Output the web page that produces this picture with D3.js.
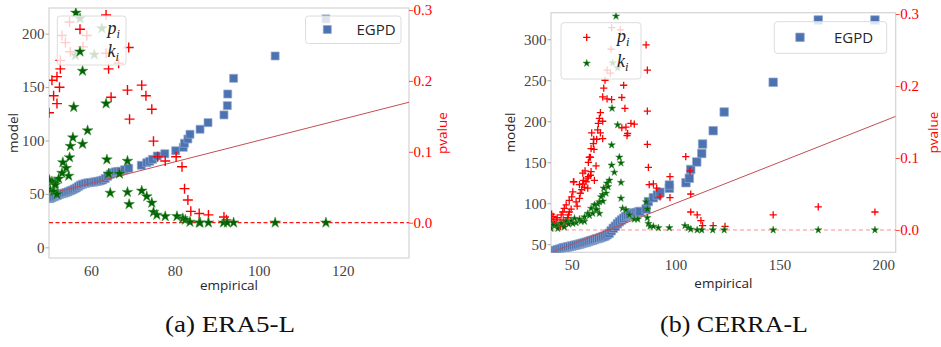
<!DOCTYPE html>
<html><head><meta charset="utf-8">
<script src="https://cdn.jsdelivr.net/npm/d3@7"></script>
<style>body{margin:0;background:#fff}</style>
</head><body><svg id="c" width="941" height="347"></svg>
<script>
// ---------------- DATA ----------------
// (a) ERA5-L
const era5XTicks = [60, 80, 100, 120];
const era5YTicks = [0, 50, 100, 150, 200];
const era5PTicks = [0, 0.1, 0.2, 0.3];
const era5XDomain = [50, 135.8];
const era5YDomain = [-10, 224];
const era5PDomain = [-0.0498, 0.3028];
const era5Ref = [52, 136];
const era5EGPD = [[50.2,45.5],[50.6,46.3],[51.0,47.0],[51.5,47.8],[52.0,48.6],[52.5,49.4],[53.0,50.1],[53.5,50.6],[54.0,51.2],[54.5,51.9],[55.0,52.8],[55.5,53.6],[56.0,54.6],[56.5,55.6],[57.0,57.0],[57.5,58.2],[58.0,59.0],[58.6,59.8],[59.2,60.3],[59.8,60.6],[60.5,61.0],[61.0,61.3],[61.6,61.8],[62.2,62.2],[62.8,63.0],[63.4,64.4],[64.0,66.5],[64.6,68.4],[65.2,69.8],[65.8,70.6],[66.4,71.0],[67.0,71.2],[68.0,72.6],[69.0,74.0],[72.0,76.8],[73.3,79.2],[74.0,80.5],[74.7,82.4],[75.8,85.5],[77.6,87.6],[80.2,90.4],[82.0,93.6],[82.3,97.4],[83.1,101.4],[83.6,105.8],[86.0,110.5],[87.9,116.7],[91.7,123.9],[92.5,132.6],[92.6,143.5],[94.0,158.2],[103.9,179.1],[116.0,213.8]];
const era5P = [[50.0,0.155],[50.7,0.201],[51.1,0.179],[51.9,0.168],[51.9,0.206],[52.5,0.191],[52.7,0.217],[52.7,0.229],[53.1,0.264],[53.9,0.254],[54.9,0.283],[55.1,0.241],[57.9,0.310],[58.1,0.248],[59.0,0.264],[63.6,0.293],[63.6,0.239],[64.2,0.217],[64.8,0.177],[66.6,0.225],[69.0,0.247],[68.7,0.187],[69.2,0.146],[72.1,0.194],[73.1,0.179],[74.5,0.160],[74.9,0.115],[75.9,0.093],[77.7,0.087],[80.3,0.093],[81.7,0.079],[82.3,0.048],[83.1,0.032],[83.8,0.016],[85.8,0.013],[88.0,0.011],[91.7,0.008],[92.3,0.004]];
const era5K = [[56.4,0.296],[58.0,0.214],[55.9,0.163],[63.6,0.168],[59.2,0.130],[58.0,0.111],[55.7,0.120],[55.1,0.108],[54.9,0.092],[53.3,0.085],[54.1,0.077],[54.7,0.066],[53.1,0.070],[52.3,0.062],[51.5,0.056],[50.7,0.058],[50.3,0.046],[51.1,0.044],[51.9,0.040],[50.1,0.060],[51.5,0.053],[63.8,0.089],[64.6,0.042],[64.2,0.069],[66.8,0.069],[68.7,0.087],[68.7,0.043],[69.1,0.026],[72.1,0.045],[73.3,0.037],[74.5,0.028],[74.9,0.015],[75.7,0.011],[77.7,0.009],[80.5,0.009],[81.9,0.006],[82.5,0.004],[83.6,0.001],[85.8,0],[86.0,0],[88.0,0],[91.6,0],[92.5,0],[94.0,0],[103.9,0],[116.0,0],[57.4,0.288],[62.6,0.274],[56.3,0.236],[60.8,0.237]];

// (b) CERRA-L
const cerraXTicks = [50, 100, 150, 200];
const cerraYTicks = [50, 100, 150, 200, 250, 300];
const cerraPTicks = [0, 0.1, 0.2, 0.3];
const cerraXDomain = [40, 206];
const cerraYDomain = [40.2, 332.4];
const cerraPDomain = [-0.031, 0.3018];
const cerraRef = [40, 206];
const cerraEGPD = [[40.3,40.8],[41.2,41.6],[42.1,42.4],[43.0,43.2],[44.0,44.0],[45.0,44.8],[46.0,45.6],[47.0,46.2],[48.0,46.8],[49.0,47.3],[50.0,47.9],[51.0,48.5],[52.0,49.1],[53.0,49.7],[54.0,50.4],[55.0,51.1],[56.0,51.8],[57.0,52.6],[58.0,53.4],[59.0,54.2],[60.0,55.0],[61.0,55.9],[62.0,56.6],[63.0,57.3],[64.0,58.2],[65.0,59.1],[66.0,60.2],[67.0,61.6],[68.0,63.5],[69.0,66.5],[70.0,69.5],[71.0,72.0],[72.0,75.0],[73.0,77.5],[74.0,79.6],[75.0,81.8],[76.0,83.8],[77.0,85.2],[78.0,86.3],[79.0,87.2],[80.0,88.0],[81.0,88.6],[82.0,89.2],[82.8,90.0],[85.8,93.0],[86.9,102.0],[89.3,106.8],[91.2,110.1],[92.5,113.4],[97.0,118.3],[97.0,122.3],[105.0,125.1],[106.6,130.5],[107.3,141.2],[110.2,150.4],[112.6,160.7],[113.0,172.3],[118.1,188.5],[123.4,211.3],[147.0,247.6],[168.7,323.5],[196.0,323.5]];
const cerraP = [[40.3,0.022],[40.3,0.015],[41.0,0.011],[41.7,0.008],[42.7,0.006],[43.6,0.005],[44.6,0.005],[45.6,0.006],[46.6,0.008],[47.3,0.013],[48.0,0.017],[41.0,0.019],[42.5,0.014],[43.0,0.017],[44.4,0.011],[45.9,0.014],[44.9,0.021],[45.7,0.025],[46.4,0.030],[47.3,0.035],[48.4,0.021],[48.8,0.025],[48.8,0.041],[49.7,0.029],[50.0,0.046],[50.5,0.053],[51.0,0.067],[52.1,0.039],[52.6,0.033],[53.7,0.044],[54.1,0.051],[54.8,0.056],[55.3,0.064],[56.1,0.059],[56.9,0.067],[57.7,0.058],[57.7,0.072],[59.0,0.076],[59.3,0.081],[60.9,0.069],[61.7,0.089],[59.0,0.101],[59.3,0.113],[59.6,0.135],[60.6,0.126],[62.5,0.139],[63.3,0.155],[63.8,0.135],[63.8,0.163],[64.9,0.127],[64.9,0.151],[64.9,0.185],[65.4,0.197],[66.0,0.208],[67.0,0.182],[67.0,0.222],[68.6,0.218],[68.9,0.251],[69.2,0.181],[69.2,0.281],[73.4,0.278],[74.1,0.184],[74.1,0.142],[75.0,0.201],[75.6,0.169],[76.1,0.143],[76.6,0.131],[76.9,0.134],[78.5,0.148],[80.1,0.147],[62.8,0.148],[62.0,0.126],[60.4,0.120],[60.7,0.112],[58.5,0.101],[58.0,0.094],[56.4,0.082],[55.3,0.079],[55.6,0.069],[58.0,0.074],[50.8,0.067],[53.7,0.063],[85.8,0.257],[86.4,0.222],[86.4,0.165],[86.4,0.119],[86.9,0.087],[87.3,0.063],[89.3,0.064],[90.9,0.058],[92.5,0.046],[97.3,0.074],[97.3,0.045],[104.9,0.102],[106.9,0.082],[107.3,0.050],[107.3,0.025],[110.4,0.021],[112.2,0.013],[113.0,0.006],[118.1,0.006],[123.8,0.005],[147.0,0.021],[168.7,0.032],[196.0,0.025]];
const cerraK = [[71.3,0.297],[69.4,0.169],[72.1,0.146],[69.7,0.232],[72.1,0.225],[69.2,0.118],[72.9,0.101],[73.7,0.093],[69.2,0.090],[68.1,0.069],[67.0,0.065],[65.4,0.058],[66.5,0.051],[64.9,0.049],[64.1,0.046],[63.3,0.039],[62.5,0.036],[73.7,0.066],[73.7,0.044],[74.5,0.030],[76.1,0.028],[77.7,0.021],[80.1,0.015],[81.8,0.015],[60.9,0.035],[59.3,0.030],[61.7,0.029],[57.7,0.023],[60.1,0.023],[63.3,0.023],[56.1,0.018],[56.1,0.012],[53.7,0.015],[52.1,0.010],[51.3,0.016],[49.7,0.013],[47.3,0.012],[44.9,0.009],[42.4,0.007],[40.9,0.007],[40.0,0.002],[43.3,0.002],[46.4,0.004],[48.5,0.008],[50.5,0.009],[54.5,0.012],[58.5,0.020],[62.0,0.028],[65.0,0.040],[67.5,0.060],[70.5,0.080],[85.8,0.039],[86.4,0.029],[86.4,0.017],[86.9,0.009],[87.7,0.005],[89.3,0.005],[91.7,0.003],[97.0,0.003],[104.5,0.006],[106.1,0.003],[107.3,0.001],[110.4,0],[112.6,0],[117.9,0],[123.4,0],[147.0,0],[168.7,0],[196.0,0]];

const labels = {x: "empirical", y: "model", p: "pvalue", egpd: "EGPD"};
const captions = ["(a) ERA5-L", "(b) CERRA-L"];

// ---------------- DRAW ----------------
const svg = d3.select('#c');
svg.append('rect').attr('width', 941).attr('height', 347).attr('fill', '#fff');

const BLUE = '#4c72b0', RED = '#ff0000', GREEN = '#006400';
const SERIF = '"Liberation Serif", "DejaVu Serif", serif';
const SANS = '"Open Sans", "DejaVu Sans", sans-serif';

function plusPath(a){ return `M${-a},0H${a}M0,${-a}V${a}`; }

function panel(o){
  const g = svg.append('g');
  const x = d3.scaleLinear().domain(o.xDom).range([o.L, o.R]);
  const y = d3.scaleLinear().domain(o.yDom).range([o.B, o.T]);
  const yp = d3.scaleLinear().domain(o.pDom).range([o.B, o.T]);
  const cid = 'clip' + o.key;
  svg.append('clipPath').attr('id', cid).append('rect')
    .attr('x', o.L).attr('y', o.T).attr('width', o.R - o.L).attr('height', o.B - o.T);

  // frame
  g.append('rect').attr('x', o.L).attr('y', o.T).attr('width', o.R - o.L).attr('height', o.B - o.T)
    .attr('fill', 'none').attr('stroke', '#d4d4d4').attr('stroke-width', 1.2);

  // axes
  const ax = g.append('g').attr('transform', `translate(0,${o.B})`)
    .call(d3.axisBottom(x).tickValues(o.xTicks).tickSize(0).tickPadding(7.5).tickFormat(d3.format('d')));
  const ay = g.append('g').attr('transform', `translate(${o.L},0)`)
    .call(d3.axisLeft(y).tickValues(o.yTicks).tickSize(3.5).tickPadding(1).tickFormat(d3.format('d')));
  const ap = g.append('g').attr('transform', `translate(${o.R},0)`)
    .call(d3.axisRight(yp).tickValues(o.pTicks).tickSize(4).tickPadding(0.5).tickFormat(d3.format('.1f')));
  [ax, ay, ap].forEach(a => { a.select('.domain').remove();
    a.selectAll('text').attr('font-family', SERIF).attr('font-size', 15); });
  ax.selectAll('text').attr('fill', '#444');
  ay.selectAll('text').attr('fill', '#444');
  ay.selectAll('line').attr('stroke', '#aaa');
  ap.selectAll('text').attr('fill', RED);
  ap.selectAll('line').attr('stroke', RED).attr('stroke-opacity', 0.7);

  // axis labels
  g.append('text').attr('x', (o.L + o.R) / 2).attr('y', o.xLabY).attr('text-anchor', 'middle')
    .attr('font-family', SANS).attr('font-size', 13.5).attr('fill', '#262626').text(labels.x);
  g.append('text').attr('transform', `translate(${o.yLabX},${(o.T + o.B) / 2}) rotate(-90)`).attr('text-anchor', 'middle')
    .attr('font-family', SANS).attr('font-size', 13.5).attr('fill', '#262626').text(labels.y);
  g.append('text').attr('transform', `translate(${o.pLabX},${(o.T + o.B) / 2}) rotate(-90)`).attr('text-anchor', 'middle')
    .attr('font-family', SANS).attr('font-size', 13.5).attr('fill', RED).text(labels.p);

  const clipG = g.append('g').attr('clip-path', `url(#${cid})`);
  // EGPD squares
  const sq = d3.symbol(d3.symbolSquare, o.sqSize * o.sqSize)();
  clipG.append('g').selectAll('path').data(o.egpd).join('path')
    .attr('d', sq).attr('transform', d => `translate(${x(d[0])},${y(d[1])})`)
    .attr('fill', BLUE).attr('stroke', '#8fa7cf').attr('stroke-width', 0.7);
  // 1:1 line
  clipG.append('line').attr('x1', x(o.ref[0])).attr('y1', y(o.ref[0])).attr('x2', x(o.ref[1])).attr('y2', y(o.ref[1]))
    .attr('stroke', '#c44e52').attr('stroke-width', 1);

  // EGPD legend
  const le = o.legE;
  g.append('rect').attr('x', le.x).attr('y', le.y).attr('width', le.w).attr('height', le.h).attr('rx', 3)
    .attr('fill', '#fff').attr('fill-opacity', 0.8).attr('stroke', '#dcdcdc');
  g.append('path').attr('d', sq).attr('transform', `translate(${le.hx},${le.hy})`)
    .attr('fill', BLUE).attr('stroke', '#8fa7cf').attr('stroke-width', 0.7);
  g.append('text').attr('x', le.tx).attr('y', le.hy).attr('dy', '0.36em')
    .attr('font-family', SANS).attr('font-size', 15).attr('fill', '#262626').text(labels.egpd);

  // pvalue zero line
  clipG.append('line').attr('x1', o.L).attr('x2', o.R).attr('y1', yp(0)).attr('y2', yp(0))
    .attr('stroke', RED).attr('stroke-opacity', o.dashOp).attr('stroke-width', o.dashW).attr('stroke-dasharray', o.dash);

  // p_i crosses
  const pp = plusPath(o.plusA);
  clipG.append('g').selectAll('path').data(o.p).join('path')
    .attr('d', pp).attr('transform', d => `translate(${x(d[0])},${yp(d[1])})`)
    .attr('fill', 'none').attr('stroke', RED).attr('stroke-width', o.plusW);
  // k_i stars
  const st = d3.symbol(d3.symbolStar, o.starSize)();
  clipG.append('g').selectAll('path').data(o.k).join('path')
    .attr('d', st).attr('transform', d => `translate(${x(d[0])},${yp(d[1])})`)
    .attr('fill', GREEN).attr('stroke', '#3d8a3d').attr('stroke-width', 0.5);

  // p/k legend
  const lp = o.legP;
  g.append('rect').attr('x', lp.x).attr('y', lp.y).attr('width', lp.w).attr('height', lp.h).attr('rx', 3)
    .attr('fill', '#fff').attr('fill-opacity', 0.8).attr('stroke', '#dcdcdc');
  g.append('path').attr('d', pp).attr('transform', `translate(${lp.hx},${lp.py})`)
    .attr('fill', 'none').attr('stroke', RED).attr('stroke-width', o.plusW);
  g.append('path').attr('d', st).attr('transform', `translate(${lp.hx},${lp.ky})`)
    .attr('fill', GREEN).attr('stroke', '#3d8a3d').attr('stroke-width', 0.5);
  [['p', lp.pb], ['k', lp.kb]].forEach(([s, b]) => {
    const t = g.append('text').attr('x', lp.tx).attr('y', b)
      .attr('font-family', SERIF).attr('font-size', 18).attr('font-style', 'italic').attr('fill', '#222');
    t.append('tspan').text(s);
    t.append('tspan').attr('font-size', 12.5).attr('dy', 4).text('i');
  });
}

panel({key: 'a', L: 49, R: 409, T: 8, B: 258,
  xDom: era5XDomain, yDom: era5YDomain, pDom: era5PDomain,
  xTicks: era5XTicks, yTicks: era5YTicks, pTicks: era5PTicks,
  egpd: era5EGPD, p: era5P, k: era5K, ref: era5Ref,
  sqSize: 8, plusA: 5, plusW: 1.4, starSize: 36,
  dash: '4,2.5', dashW: 1.3, dashOp: 0.9,
  xLabY: 290, yLabX: 18, pLabX: 447,
  legE: {x: 305.5, y: 16, w: 95.5, h: 27.5, hx: 327.3, hy: 29.5, tx: 356.5},
  legP: {x: 57.3, y: 16, w: 68.7, h: 49, hx: 80, py: 29.3, ky: 51.7, tx: 107.5, pb: 34, kb: 57}
});

panel({key: 'b', L: 551, R: 895.7, T: 12.7, B: 252.3,
  xDom: cerraXDomain, yDom: cerraYDomain, pDom: cerraPDomain,
  xTicks: cerraXTicks, yTicks: cerraYTicks, pTicks: cerraPTicks,
  egpd: cerraEGPD, p: cerraP, k: cerraK, ref: cerraRef,
  sqSize: 8.5, plusA: 3.6, plusW: 1.3, starSize: 17,
  dash: '4,3', dashW: 1, dashOp: 0.45,
  xLabY: 287.5, yLabX: 515, pLabX: 938,
  legE: {x: 774.3, y: 21.7, w: 112.4, h: 31.6, hx: 800, hy: 37.3, tx: 834},
  legP: {x: 561, y: 22.7, w: 80, h: 56.3, hx: 586.7, py: 37.3, ky: 63.3, tx: 617, pb: 41.5, kb: 66.5}
});

// captions
svg.append('text').attr('x', 165).attr('y', 332).attr('font-family', SERIF).attr('font-size', 24)
  .attr('textLength', 130).attr('lengthAdjust', 'spacingAndGlyphs').attr('fill', '#111').text(captions[0]);
svg.append('text').attr('x', 660).attr('y', 332).attr('font-family', SERIF).attr('font-size', 24)
  .attr('textLength', 148).attr('lengthAdjust', 'spacingAndGlyphs').attr('fill', '#111').text(captions[1]);
</script></body></html>
